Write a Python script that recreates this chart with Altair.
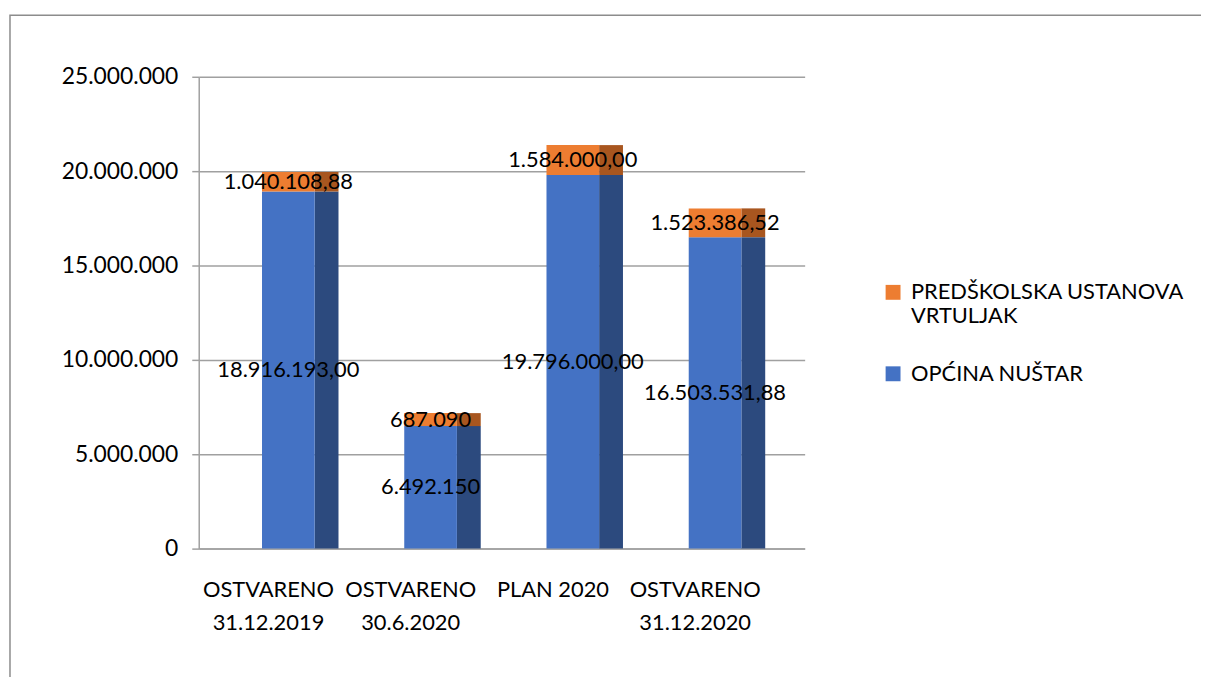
import altair as alt
import pandas as pd

categories = ["OSTVARENO|31.12.2019", "OSTVARENO|30.6.2020", "PLAN 2020", "OSTVARENO|31.12.2020"]
series = ["PREDŠKOLSKA USTANOVA|VRTULJAK", "OPĆINA NUŠTAR"]
opcina = [18916193.00, 6492150.00, 19796000.00, 16503531.88]
vrtic = [1040108.88, 687090.00, 1584000.00, 1523386.52]
opcina_labels = ["18.916.193,00", "6.492.150", "19.796.000,00", "16.503.531,88"]
vrtic_labels = ["1.040.108,88", "687.090", "1.584.000,00", "1.523.386,52"]
front_colors = ["#ED7D31", "#4472C4"]
side_colors = ["#A8561F", "#2C4A7E"]
y_ticks = [0, 5000000, 10000000, 15000000, 20000000, 25000000]

rows = []
for i, c in enumerate(categories):
    rows.append({"cat": c, "series": series[1], "ord": 0, "value": opcina[i],
                 "label": opcina_labels[i], "side": side_colors[1]})
    rows.append({"cat": c, "series": series[0], "ord": 1, "value": vrtic[i],
                 "label": vrtic_labels[i], "side": side_colors[0]})
df = pd.DataFrame(rows)

FONT = "Lato"
W, H = 610, 475

base = alt.Chart(df).transform_stack(
    stack="value", groupby=["cat"], as_=["v0", "v1"], sort=[alt.SortField("ord")]
).transform_calculate(mid="(datum.v0 + datum.v1) / 2")

xenc = alt.X(
    "cat:N", sort=categories,
    scale=alt.Scale(paddingInner=0, paddingOuter=0.13),
    axis=alt.Axis(title=None, labelExpr="split(datum.label, '|')", labelAngle=0,
                  labelAlign="center", labelOffset=-20,
                  labelFont=FONT, labelFontSize=22, labelLineHeight=33, labelColor="black",
                  labelPadding=41, ticks=False, domainColor="#A0A0A0", domainWidth=1.5,
                  grid=False, labelLimit=0),
)
yscale = alt.Scale(domain=[0, 25000000], nice=False)

front = base.mark_bar(size=53).encode(
    x=xenc,
    y=alt.Y("v0:Q", scale=yscale,
            axis=alt.Axis(title=None, values=y_ticks, format=",.0f", labelFont=FONT,
                          labelFontSize=23, labelColor="black", tickSize=7, tickColor="#A0A0A0",
                          tickWidth=1.5, labelPadding=14, domainColor="#A0A0A0", domainWidth=1.5,
                          gridColor="#A0A0A0", gridWidth=1.5)),
    y2="v1:Q",
    color=alt.Color("series:N", scale=alt.Scale(domain=series, range=front_colors),
                    legend=alt.Legend(title=None, orient="none", legendX=688, legendY=206,
                                      labelExpr="split(datum.label, '|')", symbolType="square",
                                      symbolSize=225, symbolStrokeWidth=0, labelFont=FONT,
                                      labelFontSize=22, labelColor="black",
                                      labelOffset=7, rowPadding=36, padding=0, labelLimit=0)),
)

side = base.mark_bar(size=24, xOffset=38.5).encode(
    x=alt.X("cat:N", sort=categories),
    y=alt.Y("v0:Q", scale=yscale),
    y2="v1:Q",
    fill=alt.Fill("side:N", scale=None),
)

text = base.mark_text(font=FONT, fontSize=22, color="black").encode(
    x=alt.X("cat:N", sort=categories),
    y=alt.Y("mid:Q", scale=yscale),
    text="label:N",
)

border = alt.Chart(pd.DataFrame({"k": [0]})).mark_rect(
    fill=None, stroke="#8C8C8C", strokeWidth=1.5
).encode(x=alt.value(-190), x2=alt.value(1100), y=alt.value(-62), y2=alt.value(700))

chart = alt.layer(border, side, front, text).properties(
    width=W, height=H,
    autosize=alt.AutoSizeParams(type="none"),
    padding={"left": 192, "top": 67, "right": 399, "bottom": 127},
).configure_view(stroke=None).configure_axis(gridCap="butt")

chart.save("out.html", embed_options={
    "renderer": "svg", "actions": False,
    "formatLocale": {"decimal": ",", "thousands": ".", "grouping": [3], "currency": ["", ""]},
})
